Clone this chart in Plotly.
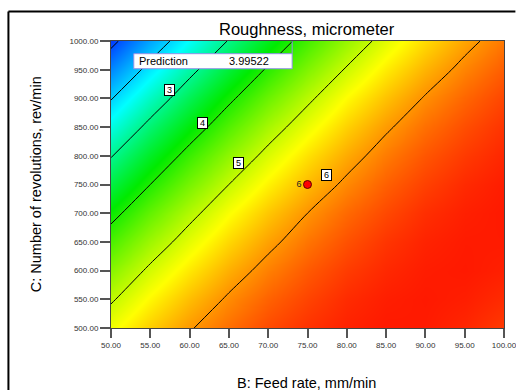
import plotly.graph_objects as go

# Axis grid (B: Feed rate, C: Number of revolutions)
feed_rate = [50, 55, 60, 65, 70, 75, 80, 85, 90, 95, 100]
revolutions = [500, 550, 600, 650, 700, 750, 800, 850, 900, 950, 1000]

# Roughness (micrometer), rows = revolutions
roughness = [
    [5.26, 5.64, 5.97, 6.23, 6.45, 6.60, 6.70, 6.75, 6.74, 6.67, 6.55],  # 500
    [4.95, 5.37, 5.74, 6.05, 6.30, 6.49, 6.64, 6.72, 6.75, 6.72, 6.64],  # 550
    [4.62, 5.08, 5.48, 5.83, 6.12, 6.36, 6.54, 6.66, 6.73, 6.75, 6.71],  # 600
    [4.25, 4.75, 5.19, 5.58, 5.91, 6.19, 6.41, 6.58, 6.69, 6.74, 6.74],  # 650
    [3.85, 4.39, 4.88, 5.31, 5.68, 6.00, 6.26, 6.46, 6.62, 6.71, 6.75],  # 700
    [3.42, 4.00, 4.53, 5.00, 5.41, 5.77, 6.07, 6.32, 6.51, 6.65, 6.73],  # 750
    [2.97, 3.59, 4.16, 4.67, 5.12, 5.52, 5.86, 6.15, 6.38, 6.55, 6.67],  # 800
    [2.48, 3.15, 3.75, 4.30, 4.80, 5.23, 5.62, 5.95, 6.22, 6.43, 6.59],  # 850
    [1.97, 2.67, 3.32, 3.91, 4.44, 4.92, 5.35, 5.71, 6.03, 6.28, 6.48],  # 900
    [1.43, 2.17, 2.86, 3.49, 4.06, 4.58, 5.04, 5.45, 5.80, 6.10, 6.34],  # 950
    [0.85, 1.64, 2.36, 3.03, 3.65, 4.21, 4.71, 5.16, 5.55, 5.89, 6.17],  # 1000
]

contour_levels = [1, 2, 3, 4, 5, 6]
label_text = ["3", "4", "5", "6"]
label_B = [57.5, 61.65, 66.2, 77.45]
label_C = [914, 858, 788, 766]

design_B = [75.0]
design_C = [750.0]
design_count = ["6"]

flag_B = 73.05
flag_C = 1000.0
prediction_label = "Prediction"
prediction_value = "3.99522"

x_ticks = [50, 55, 60, 65, 70, 75, 80, 85, 90, 95, 100]
y_ticks = [500, 550, 600, 650, 700, 750, 800, 850, 900, 950, 1000]

FONT = "Liberation Sans, Arial, sans-serif"

fig = go.Figure()

fig.add_trace(go.Heatmap(
    x=feed_rate, y=revolutions, z=roughness,
    zsmooth="best", zmin=0.85, zmax=6.75,
    colorscale=[[0.0, "rgb(0,60,255)"], [0.25, "rgb(0,255,255)"],
                [0.5, "rgb(0,235,0)"], [0.76, "rgb(255,255,0)"],
                [1.0, "rgb(255,25,0)"]],
    showscale=False, hoverinfo="skip",
))

fig.add_trace(go.Contour(
    x=feed_rate, y=revolutions, z=roughness,
    contours=dict(coloring="none", start=contour_levels[0],
                  end=contour_levels[-1], size=1, showlabels=False),
    line=dict(color="black", width=1),
    showscale=False, hoverinfo="skip",
))

fig.add_trace(go.Scatter(
    x=design_B, y=design_C, mode="markers+text",
    text=design_count, textposition="middle left",
    textfont=dict(family=FONT, size=9, color="#222"),
    marker=dict(color="#ff0000", size=8, symbol="circle",
                line=dict(color="#600000", width=1)),
    hoverinfo="skip", showlegend=False,
))

annotations = []
for t, bx, cy in zip(label_text, label_B, label_C):
    annotations.append(dict(
        x=bx, y=cy, xref="x", yref="y", text=t, showarrow=False,
        font=dict(family=FONT, size=9, color="black"),
        bgcolor="white", bordercolor="black", borderwidth=1, borderpad=0,
        width=9, height=10,
    ))

# Prediction flag
box_left_B = 52.9
box_bottom_C = 951.7
box_top_C = 977.9
shapes = [
    dict(type="rect", xref="x", yref="y", x0=box_left_B, x1=flag_B,
         y0=box_bottom_C, y1=box_top_C, fillcolor="white",
         line=dict(color="#9090e8", width=1), layer="above"),
    dict(type="line", xref="x", yref="y", x0=flag_B, x1=flag_B,
         y0=box_top_C, y1=flag_C, line=dict(color="#9090e8", width=1)),
    # outer frame: only left and top edges fall inside the view
    dict(type="line", xref="paper", yref="paper", x0=-0.261, x1=-0.261,
         y0=-0.216, y1=1.103, line=dict(color="black", width=2)),
    dict(type="line", xref="paper", yref="paper", x0=-0.261, x1=1.029,
         y0=1.103, y1=1.103, line=dict(color="black", width=2)),
]
annotations.append(dict(x=53.3, y=(box_bottom_C + box_top_C) / 2, xref="x", yref="y",
                        text=prediction_label, showarrow=False, xanchor="left",
                        font=dict(family=FONT, size=11, color="black")))
annotations.append(dict(x=64.75, y=(box_bottom_C + box_top_C) / 2, xref="x", yref="y",
                        text=prediction_value, showarrow=False, xanchor="left",
                        font=dict(family=FONT, size=11, color="black")))

# Titles
annotations.append(dict(x=0.498, y=1.043, xref="paper", yref="paper",
                        text="Roughness, micrometer", showarrow=False,
                        xanchor="center", yanchor="middle",
                        font=dict(family=FONT, size=16.5, color="black")))
annotations.append(dict(x=0.498, y=-0.192, xref="paper", yref="paper",
                        text="B: Feed rate, mm/min", showarrow=False,
                        xanchor="center", yanchor="middle",
                        font=dict(family=FONT, size=14.5, color="black")))
annotations.append(dict(x=-0.19, y=0.502, xref="paper", yref="paper",
                        text="C: Number of revolutions, rev/min", showarrow=False,
                        textangle=-90, xanchor="center", yanchor="middle",
                        font=dict(family=FONT, size=14.5, color="black")))

axis_common = dict(showgrid=False, zeroline=False, ticks="outside",
                   tickcolor="#555", tickwidth=1.5, showline=True,
                   linecolor="#444", linewidth=1, mirror=True,
                   tickformat=".2f", ticklabeloverflow="allow",
                   automargin=False,
                   tickfont=dict(family=FONT, size=8, color="#333"))

fig.update_layout(
    width=516, height=390,
    margin=dict(l=111, r=12, t=41, b=62),
    paper_bgcolor="white", plot_bgcolor="white",
    showlegend=False,
    xaxis=dict(range=[50, 100], tickvals=x_ticks, ticklen=9, **axis_common),
    yaxis=dict(range=[500, 1000], tickvals=y_ticks, ticklen=10, **axis_common),
    shapes=shapes, annotations=annotations,
)

fig.write_html("out.html")
